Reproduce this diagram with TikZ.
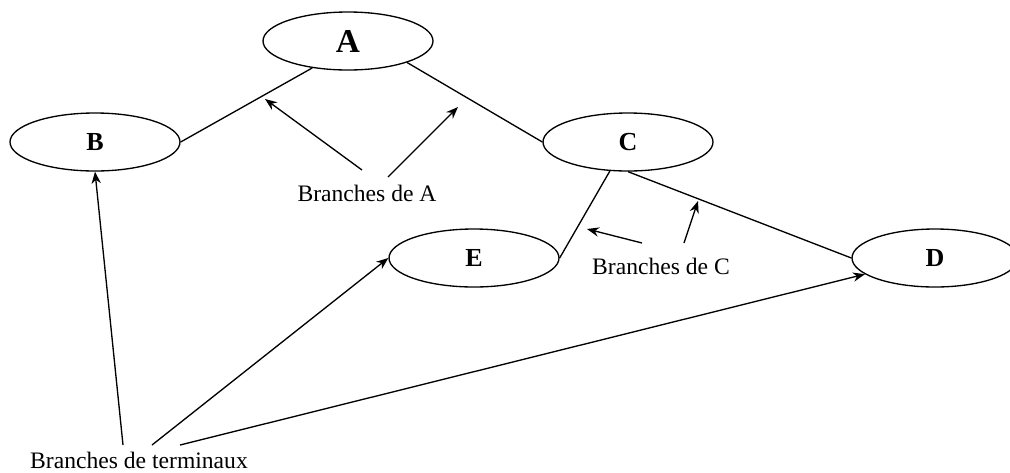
\documentclass[tikz,border=0pt]{standalone}
\usepackage{fontspec}
\setmainfont{Liberation Serif}
\usetikzlibrary{shapes.geometric,arrows.meta}

\begin{document}
\begin{tikzpicture}[x=0.75pt,y=-0.75pt,line width=1pt,
        noeud/.style={draw,ellipse,inner sep=0pt,minimum width=127.5pt,minimum height=43.5pt,
            font=\fontsize{19.5}{22}\selectfont\bfseries},
        legende/.style={font=\fontsize{17.7}{20}\selectfont,inner sep=0pt},
        fleche/.style={-{Stealth[length=9pt,width=7pt]}}]
        \useasboundingbox (0,0) rectangle (1010,472);

        % les noeuds
        \node[noeud,font=\fontsize{25}{28}\selectfont\bfseries] (A) at (348,41) {A};
        \node[noeud] (B) at (95,142) {B};
        \node[noeud] (C) at (628,142) {C};
        \node[noeud] (E) at (474,258) {E};
        \node[noeud,minimum width=124.5pt] (D) at (935,258) {D};

        \draw (B.east) -- (A.217);
        \draw (A.340) -- (C.west);
        \draw (C.238) -- (E.east);
        \draw (C.south) -- (D.west);

        % les legendes
        \node[legende] (brA) at (367,193) {Branches de A};
        \node[legende] (brC) at (661,266) {Branches de C};
        \node[legende] (brT) at (139,460) {Branches de terminaux};

        \coordinate (pAB) at (265,99);
        \coordinate (pAC) at (458,107);
        \coordinate (pCE) at (587,229);
        \coordinate (pCD) at (698,201);
        \coordinate (dA1) at (362,170);
        \coordinate (dA2) at (388,177);
        \coordinate (dC1) at (642,243);
        \coordinate (dC2) at (684,243);
        \coordinate (dT1) at (123,445);
        \coordinate (dT2) at (152,445);
        \coordinate (dT3) at (180,445);

        \draw[fleche] (dA1) -- (pAB);
        \draw[fleche] (dA2) -- (pAC);
        \draw[fleche] (dC1) -- (pCE);
        \draw[fleche] (dC2) -- (pCD);
        \draw[fleche] (dT1) -- (B.south);
        \draw[fleche] (dT2) -- (E.west);
        \draw[fleche] (dT3) -- (D.193);
    \end{tikzpicture}
\end{document}
